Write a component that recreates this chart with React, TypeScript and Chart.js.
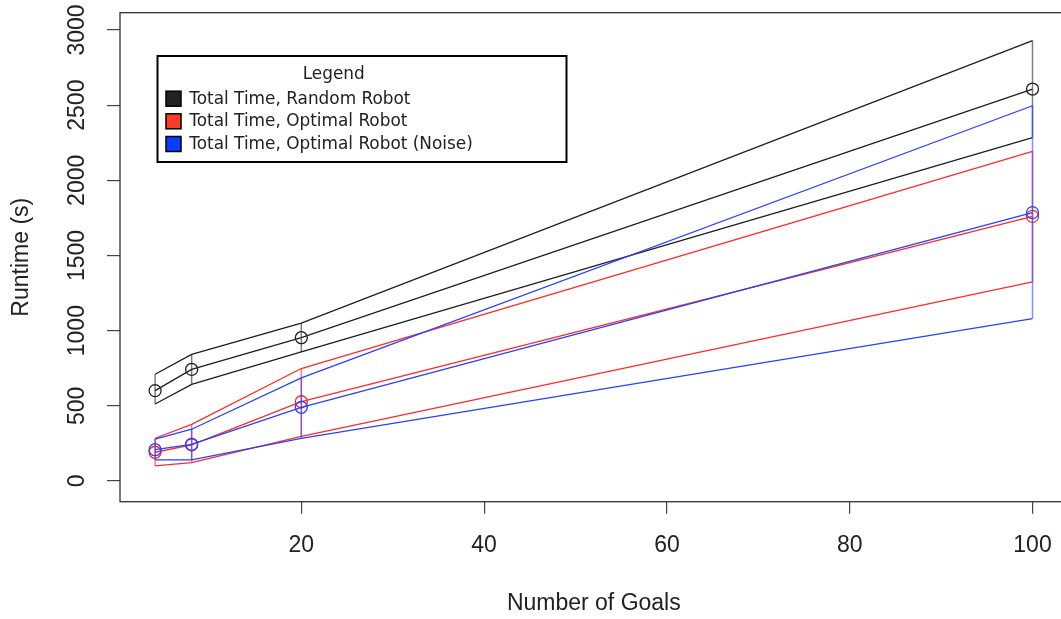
import React, { useEffect, useRef } from "react";
import { Chart, registerables } from "chart.js";

Chart.register(...registerables);

// ---- data ----
const goals = [4, 8, 20, 100];

const randomMean = [601, 742, 953, 2607];
const randomUpper = [710, 842, 1050, 2929];
const randomLower = [512, 642, 858, 2284];

const optimalMean = [191, 240, 527, 1760];
const optimalUpper = [284, 377, 748, 2193];
const optimalLower = [100, 122, 296, 1325];

const noiseMean = [208, 244, 490, 1785];
const noiseUpper = [279, 344, 686, 2496];
const noiseLower = [140, 140, 283, 1080];

const xTicks = [20, 40, 60, 80, 100];
const yTicks = [0, 500, 1000, 1500, 2000, 2500, 3000];

const xTitle = "Number of Goals";
const yTitle = "Runtime (s)";
const legendTitle = "Legend";
const seriesNames = [
  "Total Time, Random Robot",
  "Total Time, Optimal Robot",
  "Total Time, Optimal Robot (Noise)",
];

const lineColors = ["#1e1e1e", "#ff2b2b", "#2b3fff"];
const rangeColors = ["rgba(0,0,0,0.5)", "rgba(255,30,30,0.55)", "rgba(30,50,255,0.55)"];
const legendSwatch = ["#222222", "#ff3b2b", "#0a3cff"];

const W = 1080;
const H = 619;
const AXIS_FONT = "'Liberation Sans', Arial, Helvetica, sans-serif";
const LEGEND_FONT = "'DejaVu Sans', Verdana, sans-serif";

export default function App() {
  const ref = useRef<HTMLCanvasElement | null>(null);

  useEffect(() => {
    document.body.style.overflow = "hidden";
    document.documentElement.style.overflow = "hidden";
    const canvas = ref.current;
    if (!canvas) return;

    const seriesData = [
      { mean: randomMean, upper: randomUpper, lower: randomLower },
      { mean: optimalMean, upper: optimalUpper, lower: optimalLower },
      { mean: noiseMean, upper: noiseUpper, lower: noiseLower },
    ];

    const pts = (vals: number[]) => goals.map((g, i) => ({ x: g, y: vals[i] }));

    const datasets: any[] = [];
    seriesData.forEach((s, k) => {
      const c = lineColors[k];
      datasets.push({
        label: seriesNames[k] + " upper",
        data: pts(s.upper),
        borderColor: c,
        borderWidth: 1.3,
        pointRadius: 0,
        fill: false,
        tension: 0,
        order: 10 - k,
      });
      datasets.push({
        label: seriesNames[k] + " lower",
        data: pts(s.lower),
        borderColor: c,
        borderWidth: 1.3,
        pointRadius: 0,
        fill: false,
        tension: 0,
        order: 10 - k,
      });
      datasets.push({
        label: seriesNames[k],
        data: pts(s.mean),
        borderColor: c,
        borderWidth: 1.3,
        pointRadius: 6,
        pointStyle: "circle",
        pointBackgroundColor: "rgba(0,0,0,0)",
        pointBorderColor: c,
        pointBorderWidth: 1.3,
        fill: false,
        tension: 0,
        order: 10 - k,
      });
      datasets.push({
        label: seriesNames[k] + " range",
        data: goals.flatMap((g, i) => [
          { x: g, y: s.lower[i] },
          { x: g, y: s.upper[i] },
          { x: g, y: null },
        ]),
        borderColor: rangeColors[k],
        borderWidth: 1.5,
        pointRadius: 0,
        spanGaps: false,
        fill: false,
        order: 10 - k,
      });
    });

    const framePlugin = {
      id: "rframe",
      afterDraw(chart: any) {
        const { ctx, chartArea: a } = chart;
        ctx.save();
        ctx.strokeStyle = "#333333";
        ctx.lineWidth = 1.3;
        ctx.strokeRect(a.left, a.top, a.right - a.left, a.bottom - a.top);

        // legend box
        const bx = 157.5, by = 56, bw = 409, bh = 106;
        ctx.fillStyle = "#ffffff";
        ctx.fillRect(bx, by, bw, bh);
        ctx.strokeStyle = "#000000";
        ctx.lineWidth = 2;
        ctx.strokeRect(bx, by, bw, bh);

        ctx.font = `16.9px ${LEGEND_FONT}`;
        ctx.fillStyle = "#222222";
        ctx.textBaseline = "middle";
        ctx.textAlign = "center";
        ctx.fillText(legendTitle, 333.7, 75);

        ctx.textAlign = "left";
        const rows = [98.7, 121.3, 144];
        seriesNames.forEach((name, k) => {
          const cy = rows[k];
          ctx.fillStyle = legendSwatch[k];
          ctx.fillRect(166, cy - 7.5, 15, 15);
          ctx.strokeStyle = "#000000";
          ctx.lineWidth = 1.5;
          ctx.strokeRect(166, cy - 7.5, 15, 15);
          ctx.fillStyle = "#222222";
          ctx.fillText(name, 189.3, cy + 0.5);
        });
        ctx.restore();
      },
    };

    const chart = new Chart(canvas, {
      type: "line",
      data: { datasets },
      options: {
        responsive: false,
        animation: false,
        events: [],
        layout: { padding: { top: 12.7, right: W - 1067.6, left: 0, bottom: 0 } },
        plugins: {
          legend: { display: false },
          tooltip: { enabled: false },
        },
        scales: {
          x: {
            type: "linear",
            min: 0.16,
            max: 103.84,
            afterBuildTicks: (s: any) => {
              s.ticks = xTicks.map((v) => ({ value: v }));
            },
            afterFit: (s: any) => {
              s.height = H - 501.7;
              s.paddingLeft = 0;
              s.paddingRight = 0;
            },
            border: { display: false },
            grid: {
              drawOnChartArea: false,
              drawTicks: true,
              tickLength: 12,
              color: "#444444",
              lineWidth: 1.2,
            },
            ticks: {
              color: "#222222",
              font: { family: AXIS_FONT, size: 23 },
              padding: 18,
              maxRotation: 0,
              minRotation: 0,
              autoSkip: false,
              callback: (v: any) => String(v),
            },
            title: {
              display: true,
              text: xTitle,
              color: "#222222",
              font: { family: AXIS_FONT, size: 23 },
              padding: { top: 0, bottom: 2 },
            },
          },
          y: {
            type: "linear",
            min: -138,
            max: 3115,
            afterBuildTicks: (s: any) => {
              s.ticks = yTicks.map((v) => ({ value: v }));
            },
            afterFit: (s: any) => {
              s.width = 120;
              s.paddingTop = 0;
              s.paddingBottom = 0;
            },
            border: { display: false },
            grid: {
              drawOnChartArea: false,
              drawTicks: true,
              tickLength: 13,
              color: "#444444",
              lineWidth: 1.2,
            },
            ticks: {
              color: "#222222",
              font: { family: AXIS_FONT, size: 23 },
              padding: 4,
              minRotation: 90,
              maxRotation: 90,
              crossAlign: "center",
              autoSkip: false,
              callback: (v: any) => String(v),
            },
            title: {
              display: true,
              text: yTitle,
              color: "#222222",
              font: { family: AXIS_FONT, size: 23 },
              padding: { top: 8, bottom: 0 },
            },
          },
        },
      } as any,
      plugins: [framePlugin],
    });

    return () => chart.destroy();
  }, []);

  return (
    <div style={{ position: "absolute", left: 0, top: 0, width: W, height: H, background: "#ffffff" }}>
      <canvas ref={ref} width={W} height={H} style={{ display: "block" }} />
    </div>
  );
}
